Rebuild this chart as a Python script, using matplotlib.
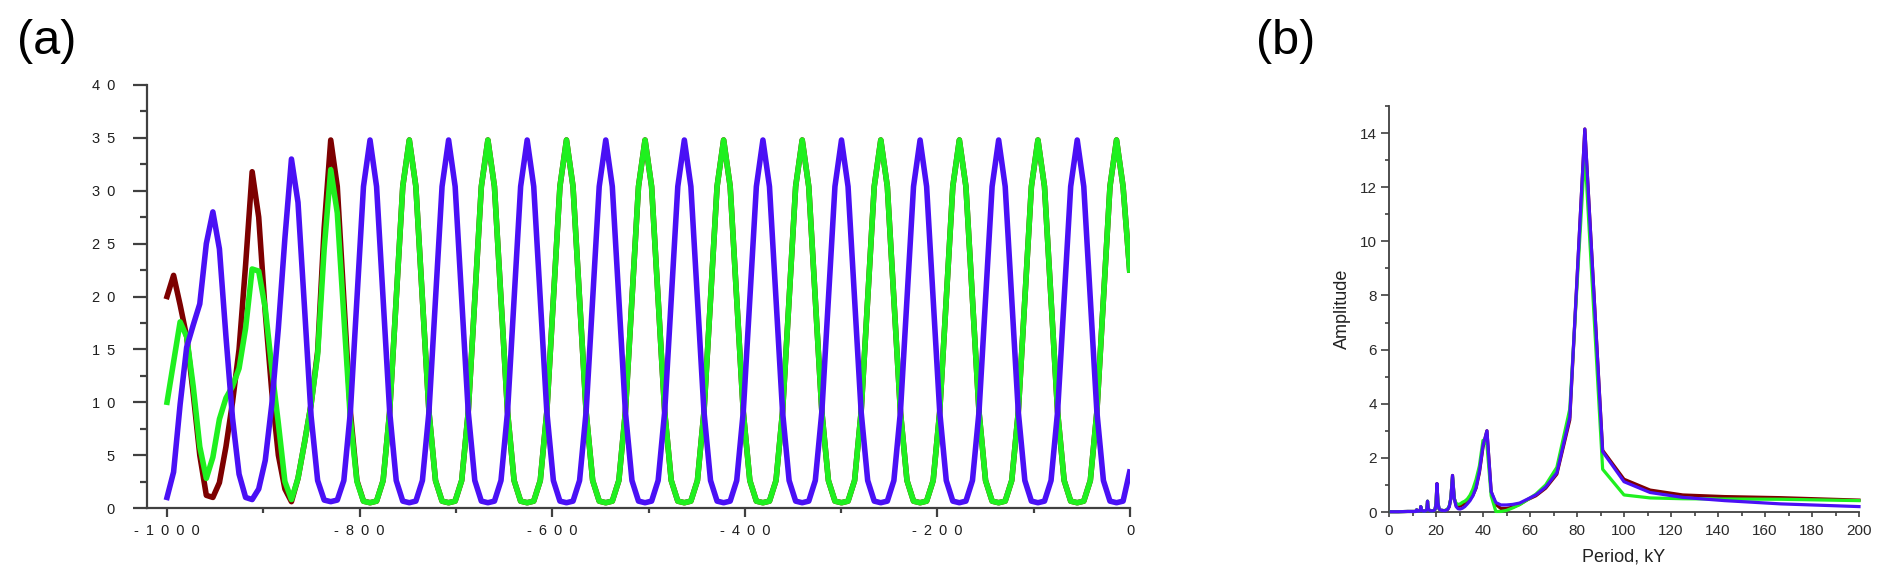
import matplotlib.pyplot as plt
import numpy as np
from matplotlib.ticker import MultipleLocator

plt.rcParams["font.family"] = ["Liberation Sans", "DejaVu Sans"]

# ---- (a) model output, one sample every 6.8 kY starting at -1000 kY
start_time = -1000.0
time_step = 6.8

red_series = [
    20.0, 22.0, 19.2, 16.2, 10.8, 5.0, 1.2, 1.0, 2.4, 5.8,
    10.0, 15.0, 23.0, 31.8, 27.5, 18.5, 11.0, 5.0, 1.8, 0.6,
    2.8, 6.2, 9.8, 14.8, 26.5, 34.8, 30.4, 19.8, 9.1, 2.6,
    0.65,
    0.5, 0.65, 2.6, 9.1, 19.8, 30.4,
    34.8, 30.4, 19.8, 9.1, 2.6, 0.65, 0.5, 0.65, 2.6, 9.1, 19.8, 30.4,
    34.8, 30.4, 19.8, 9.1, 2.6, 0.65, 0.5, 0.65, 2.6, 9.1, 19.8, 30.4,
    34.8, 30.4, 19.8, 9.1, 2.6, 0.65, 0.5, 0.65, 2.6, 9.1, 19.8, 30.4,
    34.8, 30.4, 19.8, 9.1, 2.6, 0.65, 0.5, 0.65, 2.6, 9.1, 19.8, 30.4,
    34.8, 30.4, 19.8, 9.1, 2.6, 0.65, 0.5, 0.65, 2.6, 9.1, 19.8, 30.4,
    34.8, 30.4, 19.8, 9.1, 2.6, 0.65, 0.5, 0.65, 2.6, 9.1, 19.8, 30.4,
    34.8, 30.4, 19.8, 9.1, 2.6, 0.65, 0.5, 0.65, 2.6, 9.1, 19.8, 30.4,
    34.8, 30.4, 19.8, 9.1, 2.6, 0.65, 0.5, 0.65, 2.6, 9.1, 19.8, 30.4,
    34.8, 30.4, 19.8, 9.1, 2.6, 0.65, 0.5, 0.65, 2.6, 9.1, 19.8, 30.4,
    34.8, 30.4, 22.5,
]

green_series = [
    10.0, 13.8, 17.6, 16.2, 11.5, 5.8, 2.8, 4.8, 8.4, 10.4,
    11.5, 13.2, 17.0, 22.6, 22.4, 18.9, 13.2, 8.0, 2.5, 0.8,
    2.8, 6.2, 9.8, 14.5, 24.5, 32.0, 27.9, 18.2, 8.4, 2.5,
    0.64,
    0.5, 0.65, 2.6, 9.1, 19.8, 30.4,
    34.8, 30.4, 19.8, 9.1, 2.6, 0.65, 0.5, 0.65, 2.6, 9.1, 19.8, 30.4,
    34.8, 30.4, 19.8, 9.1, 2.6, 0.65, 0.5, 0.65, 2.6, 9.1, 19.8, 30.4,
    34.8, 30.4, 19.8, 9.1, 2.6, 0.65, 0.5, 0.65, 2.6, 9.1, 19.8, 30.4,
    34.8, 30.4, 19.8, 9.1, 2.6, 0.65, 0.5, 0.65, 2.6, 9.1, 19.8, 30.4,
    34.8, 30.4, 19.8, 9.1, 2.6, 0.65, 0.5, 0.65, 2.6, 9.1, 19.8, 30.4,
    34.8, 30.4, 19.8, 9.1, 2.6, 0.65, 0.5, 0.65, 2.6, 9.1, 19.8, 30.4,
    34.8, 30.4, 19.8, 9.1, 2.6, 0.65, 0.5, 0.65, 2.6, 9.1, 19.8, 30.4,
    34.8, 30.4, 19.8, 9.1, 2.6, 0.65, 0.5, 0.65, 2.6, 9.1, 19.8, 30.4,
    34.8, 30.4, 19.8, 9.1, 2.6, 0.65, 0.5, 0.65, 2.6, 9.1, 19.8, 30.4,
    34.8, 30.4, 22.5,
]

blue_series = [
    1.0, 3.4, 9.8, 15.2, 17.3, 19.3, 25.0, 28.0, 24.5, 16.2,
    8.5, 3.2, 1.0, 0.8, 1.8, 4.5, 9.8, 17.0, 25.5, 33.0,
    28.9, 18.9, 8.7, 2.6, 0.75, 0.6, 0.75, 2.6, 9.1, 19.8,
    30.4,
    34.8, 30.4, 19.8, 9.1, 2.6, 0.65, 0.5, 0.65, 2.6, 9.1, 19.8, 30.4,
    34.8, 30.4, 19.8, 9.1, 2.6, 0.65, 0.5, 0.65, 2.6, 9.1, 19.8, 30.4,
    34.8, 30.4, 19.8, 9.1, 2.6, 0.65, 0.5, 0.65, 2.6, 9.1, 19.8, 30.4,
    34.8, 30.4, 19.8, 9.1, 2.6, 0.65, 0.5, 0.65, 2.6, 9.1, 19.8, 30.4,
    34.8, 30.4, 19.8, 9.1, 2.6, 0.65, 0.5, 0.65, 2.6, 9.1, 19.8, 30.4,
    34.8, 30.4, 19.8, 9.1, 2.6, 0.65, 0.5, 0.65, 2.6, 9.1, 19.8, 30.4,
    34.8, 30.4, 19.8, 9.1, 2.6, 0.65, 0.5, 0.65, 2.6, 9.1, 19.8, 30.4,
    34.8, 30.4, 19.8, 9.1, 2.6, 0.65, 0.5, 0.65, 2.6, 9.1, 19.8, 30.4,
    34.8, 30.4, 19.8, 9.1, 2.6, 0.65, 0.5, 0.65, 2.6, 9.1, 19.8, 30.4,
    34.8, 30.4, 19.8, 9.1, 2.6, 0.65, 0.5, 0.65, 3.4,
]

time_ticks = [-1000, -800, -600, -400, -200, 0]
value_ticks = [0, 5, 10, 15, 20, 25, 30, 35, 40]

# ---- (b) amplitude spectrum, evaluated at periods 1000/k kY
harmonics = list(range(5, 101)) + [125, 250, 500, 1000]

blue_amp = [
    0.20, 0.30, 0.42, 0.54, 0.72, 1.12, 2.23, 14.15, 3.50, 1.45,
    0.92, 0.63, 0.47, 0.33, 0.28, 0.26, 0.26, 0.35, 0.75, 3.00,
    2.45, 1.50, 0.90, 0.60, 0.42, 0.30, 0.20, 0.14, 0.11, 0.12,
    0.20, 0.50, 1.35, 0.50, 0.20, 0.10, 0.07, 0.05, 0.05, 0.06,
    0.06, 0.08, 0.12, 0.35, 1.05, 0.30, 0.10, 0.06, 0.05, 0.04,
    0.04, 0.04, 0.05, 0.06, 0.08, 0.15, 0.40, 0.12, 0.06, 0.05,
    0.04, 0.03, 0.03, 0.03, 0.04, 0.04, 0.05, 0.07, 0.12, 0.20,
    0.08, 0.05, 0.04, 0.03, 0.03, 0.03, 0.03, 0.03, 0.04, 0.05,
    0.08, 0.05, 0.03, 0.03, 0.02, 0.02, 0.02, 0.02, 0.02, 0.02,
    0.02, 0.02, 0.02, 0.02, 0.02, 0.02,
    0.02, 0.01, 0.01, 0.01,
]

red_amp = [
    0.44, 0.53, 0.57, 0.63, 0.81, 1.21, 2.28, 14.15, 3.40, 1.40,
    0.88, 0.60, 0.45, 0.28, 0.18, 0.13, 0.13, 0.28, 0.75, 3.00,
    2.40, 1.45, 0.88, 0.62, 0.47, 0.36, 0.30, 0.26, 0.22, 0.20,
    0.24, 0.50, 1.35, 0.50, 0.20, 0.10, 0.07, 0.05, 0.05, 0.06,
    0.06, 0.08, 0.12, 0.35, 1.05, 0.30, 0.10, 0.06, 0.05, 0.04,
    0.04, 0.04, 0.05, 0.06, 0.08, 0.15, 0.40, 0.12, 0.06, 0.05,
    0.04, 0.03, 0.03, 0.03, 0.04, 0.04, 0.05, 0.07, 0.12, 0.20,
    0.08, 0.05, 0.04, 0.03, 0.03, 0.03, 0.03, 0.03, 0.04, 0.05,
    0.08, 0.05, 0.03, 0.03, 0.02, 0.02, 0.02, 0.02, 0.02, 0.02,
    0.02, 0.02, 0.02, 0.02, 0.02, 0.02,
    0.02, 0.01, 0.01, 0.01,
]

green_amp = [
    0.42, 0.47, 0.48, 0.49, 0.52, 0.63, 1.58, 13.30, 3.80, 1.65,
    1.00, 0.66, 0.45, 0.27, 0.15, 0.06, 0.02, 0.02, 0.60, 2.50,
    2.65, 1.70, 1.20, 0.85, 0.62, 0.48, 0.40, 0.36, 0.30, 0.28,
    0.32, 0.50, 1.30, 0.50, 0.22, 0.12, 0.08, 0.06, 0.05, 0.06,
    0.06, 0.08, 0.12, 0.35, 1.00, 0.30, 0.10, 0.06, 0.05, 0.04,
    0.04, 0.04, 0.05, 0.06, 0.08, 0.15, 0.40, 0.12, 0.06, 0.05,
    0.04, 0.03, 0.03, 0.03, 0.04, 0.04, 0.05, 0.07, 0.12, 0.20,
    0.08, 0.05, 0.04, 0.03, 0.03, 0.03, 0.03, 0.03, 0.04, 0.05,
    0.08, 0.05, 0.03, 0.03, 0.02, 0.02, 0.02, 0.02, 0.02, 0.02,
    0.02, 0.02, 0.02, 0.02, 0.02, 0.02,
    0.02, 0.01, 0.01, 0.01,
]

period_ticks = list(range(0, 201, 20))
amp_ticks = list(range(0, 15, 2))

RED = "#7d0000"
GREEN = "#1ff01f"
BLUE = "#4a10f5"
AXIS = "#404040"


def spaced(v):
    # labels in panel (a) are drawn with wide letter spacing
    return " \u2009".join(str(v))


fig = plt.figure(figsize=(18.92, 5.86), dpi=100)

# ---- panel (a)
ax1 = fig.add_axes([147 / 1892, 1 - 508 / 586, 983 / 1892, 423 / 586])
t = start_time + time_step * np.arange(len(blue_series))
ax1.plot(t, red_series, color=RED, linewidth=4.0, zorder=2)
ax1.plot(t, green_series, color=GREEN, linewidth=4.0, zorder=3)
ax1.plot(t, blue_series, color=BLUE, linewidth=4.0, zorder=4)

ax1.set_xlim(-1020.8, 0)
ax1.set_ylim(0, 40)
ax1.set_xticks(time_ticks)
ax1.set_xticklabels([spaced(v) for v in time_ticks])
ax1.set_yticks(value_ticks)
ax1.set_yticklabels([spaced(v) for v in value_ticks])
ax1.xaxis.set_minor_locator(MultipleLocator(100))
ax1.yaxis.set_minor_locator(MultipleLocator(2.5))
for side in ["top", "right"]:
    ax1.spines[side].set_visible(False)
for side in ["left", "bottom"]:
    ax1.spines[side].set_color(AXIS)
    ax1.spines[side].set_linewidth(1.6)
ax1.tick_params(axis="both", which="both", direction="out", color=AXIS,
                width=1.6, labelsize=10.5, labelcolor="#1e1e1e")
ax1.tick_params(axis="y", which="major", length=10, pad=13)
ax1.tick_params(axis="y", which="minor", length=5)
ax1.tick_params(axis="x", which="major", length=6.5, pad=5)
ax1.tick_params(axis="x", which="minor", length=3.5)

# ---- panel (b)
ax2 = fig.add_axes([1389 / 1892, 1 - 512 / 586, 470 / 1892, 406 / 586])
period = 1000.0 / np.array(harmonics)
ax2.plot(period, red_amp, color=RED, linewidth=2.3, clip_on=False, zorder=2)
ax2.plot(period, green_amp, color=GREEN, linewidth=2.3, clip_on=False, zorder=3)
ax2.plot(period, blue_amp, color=BLUE, linewidth=2.3, clip_on=False, zorder=4)

ax2.set_xlim(0, 200)
ax2.set_ylim(0, 15)
ax2.set_xticks(period_ticks)
ax2.set_yticks(amp_ticks)
ax2.xaxis.set_minor_locator(MultipleLocator(10))
ax2.yaxis.set_minor_locator(MultipleLocator(1))
for side in ["top", "right"]:
    ax2.spines[side].set_visible(False)
for side in ["left", "bottom"]:
    ax2.spines[side].set_color(AXIS)
    ax2.spines[side].set_linewidth(1.3)
ax2.tick_params(axis="both", which="both", direction="out", color=AXIS,
                width=1.2, labelsize=11, labelcolor="#2a2a2a")
ax2.tick_params(axis="y", which="major", length=6, pad=2.5)
ax2.tick_params(axis="y", which="minor", length=3)
ax2.tick_params(axis="x", which="major", length=3.5, pad=5)
ax2.tick_params(axis="x", which="minor", length=3)
ax2.set_xlabel("Period, kY", fontsize=13, color="#222222")
ax2.set_ylabel("Amplitude", fontsize=13, color="#222222")
ax2.xaxis.set_label_coords(0.5, -0.091)
ax2.yaxis.set_label_coords(-0.08, 0.5)

fig.text(47 / 1892, 1 - 42 / 586, "(a)", fontsize=35, ha="center", va="center")
fig.text(1286 / 1892, 1 - 42 / 586, "(b)", fontsize=35, ha="center", va="center")

fig.savefig("out.png", dpi=100)
